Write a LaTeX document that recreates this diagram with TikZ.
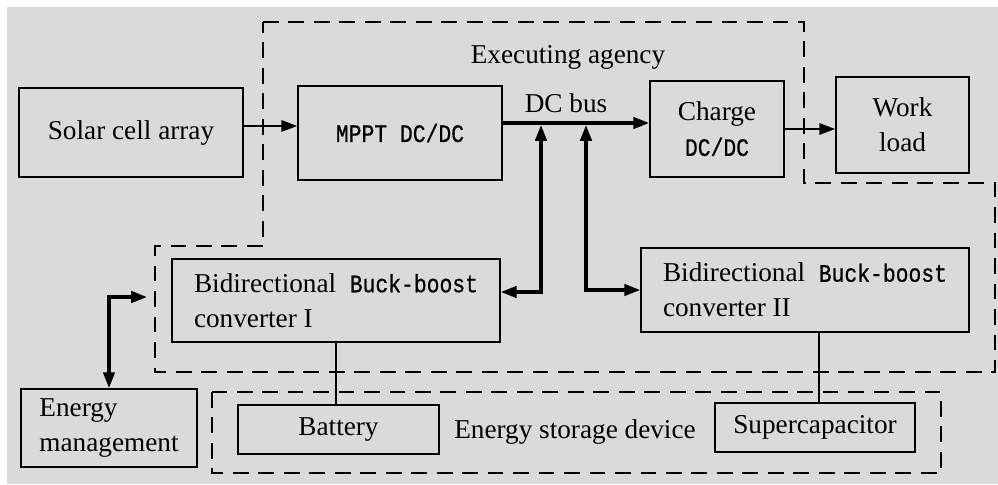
\documentclass[tikz,border=0pt]{standalone}
\usepackage{fontspec}
\setmainfont{Liberation Serif}
\newfontfamily\monofam[FakeStretch=0.85, FakeBold=0.6]{Liberation Mono}
\usetikzlibrary{arrows.meta}
\definecolor{panelgray}{RGB}{218,218,218}
\newcommand{\mono}[1]{{\monofam\fontsize{14.3}{19}\selectfont #1}}

\begin{document}
\begin{tikzpicture}[
		x=0.02cm, y=-0.02cm,
		every node/.style={font=\fontsize{15.5}{20}\selectfont},
		block/.style={rectangle, draw, line width=1pt, inner sep=0pt, align=center},
		region/.style={draw, line width=1.2pt, dash pattern=on 9pt off 5.5pt},
		flow/.style={-{Triangle[length=9pt,width=6.5pt]}, line width=1pt},
		busline/.style={-{Triangle[length=9pt,width=6.5pt]}, line width=1.8pt},
		link/.style={{Triangle[length=9pt,width=6.5pt]}-{Triangle[length=9pt,width=6.5pt]}, line width=1.8pt}
		]
		
		\useasboundingbox (0,0) rectangle (998,484);
		\fill[panelgray] (7,7) rectangle (998,484);
		
		% Dashed regions
		\draw[region] (263,22) -- (804,22) -- (804,183) -- (995,183) -- (995,372)
			-- (155,372) -- (155,246) -- (263,246) -- cycle;
		\draw[region] (212,392) rectangle (941,473);
		\node (exec) at (568,57) {Executing agency};
		\node (store) at (575,432) {Energy storage device};
		
		% Top row
		\node[block, minimum width=4.48cm, minimum height=1.78cm] (solar) at (131,132.5) {Solar cell array};
		\node[block, minimum width=4.08cm, minimum height=1.88cm] (mppt) at (400,133) {\mono{MPPT DC/DC}};
		\node[block, minimum width=2.68cm, minimum height=1.92cm] (charge) at (717,129) {Charge\\\mono{DC/DC}};
		\node[block, minimum width=2.66cm, minimum height=1.92cm] (work) at (902.5,125) {Work\\load};
		\node (bus) at (566,103) {DC bus};
		
		% Converters
		\node[block, align=left, minimum width=6.56cm, minimum height=1.66cm] (conv1) at (336,300.5)
			{Bidirectional~~\mono{Buck-boost}\\converter I};
		\node[block, align=left, minimum width=6.56cm, minimum height=1.68cm] (conv2) at (805,290)
			{Bidirectional~~\mono{Buck-boost}\\converter II};
		
		% Bottom row
		\node[block, align=left, minimum width=3.52cm, minimum height=1.56cm] (em) at (109,428) {Energy\\management};
		\node[block, minimum width=4.02cm, minimum height=0.98cm] (battery) at (338.5,429.5) {Battery};
		\node[block, minimum width=4.0cm, minimum height=0.98cm] (supercap) at (815,427.5) {Supercapacitor};
		
		% Connectors
		\draw[flow] ([yshift=0.13cm]solar.east) -- ([yshift=0.13cm]solar.east -| mppt.west);
		\draw[busline] ([yshift=0.2cm]mppt.east) -- ([yshift=0.2cm]mppt.east -| charge.west);
		\draw[flow] (charge.east) -- (charge.east -| work.west);
		
		\coordinate (tapA) at (541,125);
		\coordinate (tapB) at (586,125);
		\draw[link] (tapA) |- ([yshift=0.17cm]conv1.east);
		\draw[link] (tapB) |- (conv2.west);
		
		\coordinate (emEnd) at (147,297);
		\draw[link] (em.north) |- (emEnd);
		
		\draw[line width=1pt] (conv1.south) -- (conv1.south |- battery.north);
		\draw[line width=1pt] ([xshift=0.08cm]supercap.north) -- ([xshift=0.08cm]supercap.north |- conv2.south);
		
	\end{tikzpicture}
\end{document}
